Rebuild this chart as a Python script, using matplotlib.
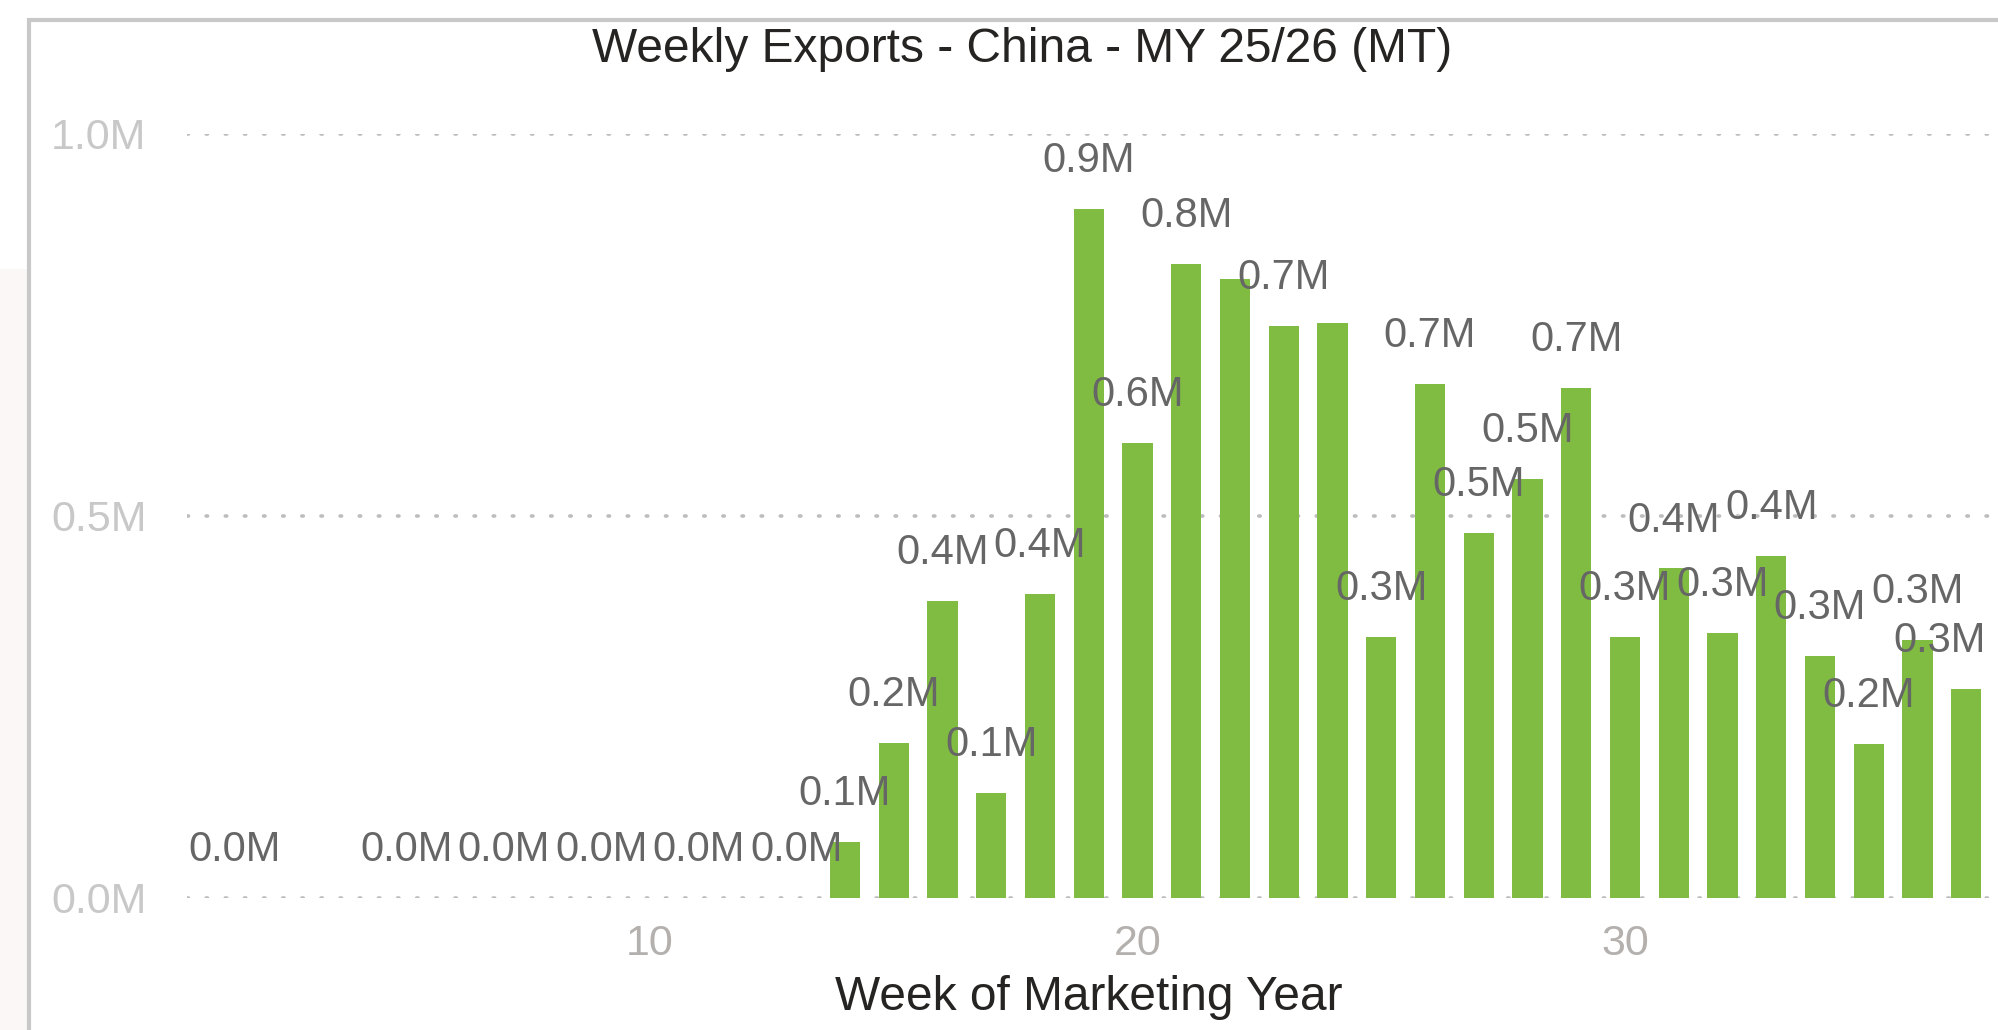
import matplotlib
matplotlib.use("Agg")
import matplotlib.pyplot as plt
from matplotlib.patches import Rectangle

# ---- data ----
weeks = list(range(1, 38))
exports_mt = [0, 0, 0, 0, 0, 0, 0, 0, 0, 0, 0, 0, 0,
              73000, 203000, 388000, 137000, 398000, 902000, 595000, 830000,
              810000, 748000, 752000, 341000, 672000, 478000, 548000, 667000,
              341000, 431000, 346000, 447000, 316000, 201000, 337000, 273000]
# weeks whose data label is shown (others hidden by overlap in the original)
label_weeks = [1, 5, 7, 9, 11, 13, 14, 15, 16, 17, 18, 19, 20, 21, 23, 25, 26,
               27, 28, 29, 30, 31, 32, 33, 34, 35, 36, 37]
x_ticks = [10, 20, 30]
y_ticks = [0, 500000, 1000000]
y_tick_labels = ["0.0M", "0.5M", "1.0M"]
title = "Weekly Exports - China - MY 25/26 (MT)"
x_title = "Week of Marketing Year"

# ---- style ----
plt.rcParams['font.family'] = ['Liberation Sans', 'DejaVu Sans']
W, H = 1998, 1030
fig = plt.figure(figsize=(W / 100, H / 100), dpi=100)
fig.patch.set_facecolor("white")

# left background strip and border of the visual
fig.add_artist(Rectangle((0, 0), 28 / W, 1 - 269 / H, transform=fig.transFigure,
                         facecolor="#faf7f6", edgecolor="none", zorder=0))
fig.add_artist(Rectangle((29 / W, -0.01), 1.1, 1 - 20 / H + 0.01, transform=fig.transFigure,
                         facecolor="white", edgecolor="#c8c8c8", linewidth=3.0, zorder=0.5))

left, right = 186.9 / W, 1990.6 / W
bottom, top = 1 - 897.7 / H, 1 - 133.8 / H
ax = fig.add_axes([left, bottom, right - left, top - bottom])
ax.set_facecolor("none")
ax.set_zorder(1)

bar_color = "#80bc42"
ax.bar(weeks, exports_mt, width=0.62, color=bar_color, zorder=3)

ax.set_xlim(0.5, 37.5)
ax.set_ylim(0, 1000000)

for s in ax.spines.values():
    s.set_visible(False)

ax.set_yticks(y_ticks)
ax.set_yticklabels(y_tick_labels)
ax.set_xticks(x_ticks)
ax.tick_params(axis="y", length=0, pad=29, labelsize=31, labelcolor="#c8c8c8")
ax.tick_params(axis="x", length=0, pad=19, labelsize=31, labelcolor="#b3b0ad")
ax.yaxis.grid(True, linestyle=(0, (0.4, 4.9)), linewidth=2.6, color="#bdbdbd",
              dash_capstyle="round", zorder=0)
ax.set_axisbelow(True)

# data labels
label_color = "#666666"
for w in label_weeks:
    v = exports_mt[weeks.index(w)]
    txt = f"{v / 1e6:.1f}M"
    if w == weeks[0]:
        x, ha = 0.5 + 0.04, "left"
    elif w == weeks[-1]:
        x, ha = 37.5 - 0.1, "right"
    else:
        x, ha = w, "center"
    ax.annotate(txt, xy=(x, v), xytext=(0, 34.5), textcoords="offset points",
                ha=ha, va="center", fontsize=30, color=label_color,
                zorder=5, annotation_clip=False)

fig.text(1022 / W, 1 - 50 / H, title, ha="center", va="center",
         fontsize=34.5, color="#252423")
fig.text((left + right) / 2, 1 - 998 / H, x_title, ha="center", va="center",
         fontsize=34.5, color="#252423")

fig.savefig("out.png", dpi=100, facecolor="white")
